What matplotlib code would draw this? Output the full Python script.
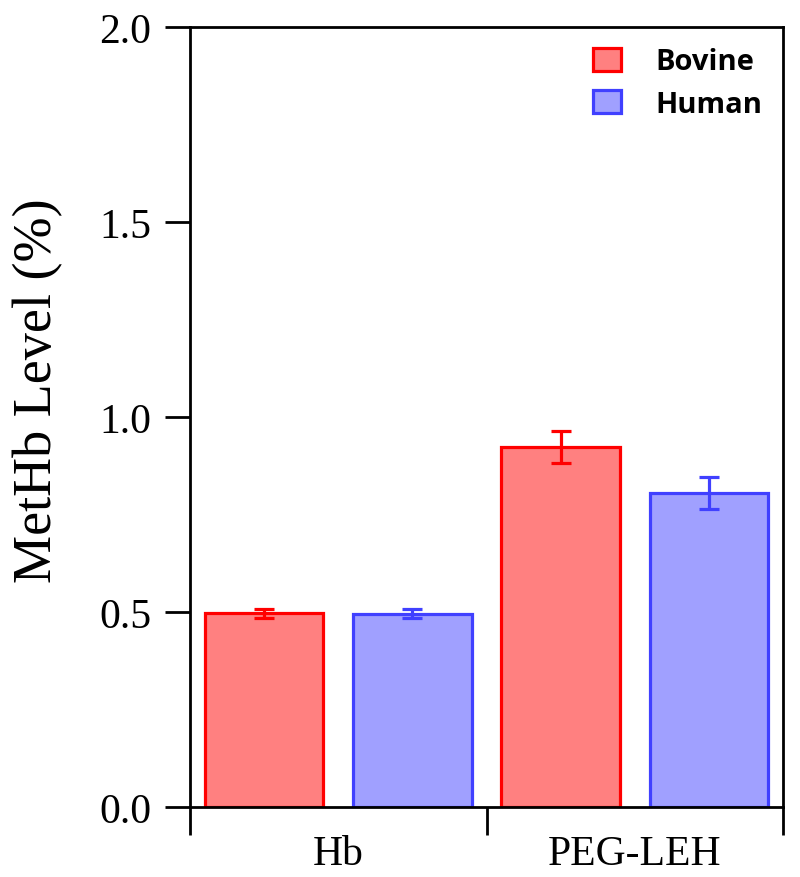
import matplotlib
matplotlib.use("Agg")
import matplotlib.pyplot as plt
from matplotlib.ticker import FixedLocator
import numpy as np

categories = ["Hb", "PEG-LEH"]
bovine = [0.497, 0.923]
bovine_err = [0.012, 0.040]
human = [0.496, 0.805]
human_err = [0.012, 0.042]
yticks = [0.0, 0.5, 1.0, 1.5, 2.0]

plt.rcParams["font.family"] = ["Liberation Serif", "DejaVu Serif"]

fig = plt.figure(figsize=(8, 8.78), dpi=100)
ax = fig.add_axes([0.2375, 0.0797, 0.7413, 0.8884])

x = np.arange(len(categories))
w = 0.4
ax.bar(x - 0.25, bovine, w, color="#ff8080", edgecolor="#ff0000", linewidth=2.3,
       label="Bovine", zorder=2)
ax.bar(x + 0.25, human, w, color="#a0a0ff", edgecolor="#4040ff", linewidth=2.3,
       label="Human", zorder=2)
ax.errorbar(x - 0.25, bovine, yerr=bovine_err, fmt="none", ecolor="#ff0000",
            elinewidth=2.3, capsize=7.5, capthick=2.3, zorder=3)
ax.errorbar(x + 0.25, human, yerr=human_err, fmt="none", ecolor="#4040ff",
            elinewidth=2.3, capsize=7.5, capthick=2.3, zorder=3)

ax.set_xlim(-0.5, 1.5)
ax.set_ylim(0, 2.0)
ax.set_yticks(yticks)
ax.set_yticklabels([f"{v:.1f}" for v in yticks])
ax.set_xticks(x)
ax.set_xticklabels(categories)
ax.xaxis.set_minor_locator(FixedLocator([-0.5, 0.5, 1.5]))

ax.tick_params(axis="y", direction="out", length=18, width=2.0, labelsize=30, pad=10)
ax.tick_params(axis="x", which="major", length=0, labelsize=30, pad=20)
ax.tick_params(axis="x", which="minor", direction="out", length=20, width=2.0)
for s in ax.spines.values():
    s.set_linewidth(2.0)

ax.set_ylabel("MetHb Level (%)", fontsize=39)
ax.yaxis.set_label_coords(-0.214, 0.535)

leg = ax.legend(loc="upper right", frameon=False,
                prop={"family": "Open Sans", "weight": "bold", "size": 21},
                handlelength=0.95, handleheight=0.85, handletextpad=1.2,
                labelspacing=0.45, borderaxespad=0.3)

fig.savefig("out.png", dpi=100)
